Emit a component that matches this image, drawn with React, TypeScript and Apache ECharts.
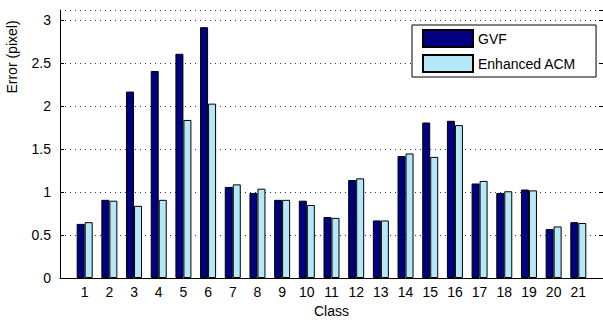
import React, { useEffect, useRef } from "react";
import * as echarts from "echarts";

const classes = [1, 2, 3, 4, 5, 6, 7, 8, 9, 10, 11, 12, 13, 14, 15, 16, 17, 18, 19, 20, 21];
const gvf = [0.63, 0.91, 2.17, 2.41, 2.61, 2.92, 1.06, 0.99, 0.91, 0.9, 0.71, 1.14, 0.67, 1.42, 1.81, 1.83, 1.1, 0.99, 1.03, 0.57, 0.65];
const acm = [0.65, 0.9, 0.84, 0.91, 1.84, 2.03, 1.09, 1.04, 0.91, 0.85, 0.7, 1.16, 0.67, 1.45, 1.41, 1.78, 1.13, 1.01, 1.02, 0.6, 0.64];
const seriesNames = ["GVF", "Enhanced ACM"];
const FONT = "Liberation Sans, Arial, sans-serif";

export default function App() {
  const ref = useRef<HTMLDivElement>(null);
  useEffect(() => {
    if (!ref.current) return;
    const chart = echarts.init(ref.current, null, { renderer: "svg" });
    const mk = (vals: number[]) => vals.map((v, i) => [classes[i], v]);
    chart.setOption({
      animation: false,
      backgroundColor: "#fff",
      grid: { left: 60, right: 0, top: 10, bottom: 42, containLabel: false, outerBoundsMode: "none" },
      legend: {
        data: seriesNames,
        orient: "vertical",
        left: 412,
        top: 25,
        padding: [4, 20, 4, 10],
        itemGap: 6,
        itemWidth: 50,
        itemHeight: 17,
        borderColor: "#000",
        borderWidth: 1,
        backgroundColor: "#fff",
        icon: "rect",
        textStyle: { fontFamily: FONT, fontSize: 14, color: "#000" },
      },
      xAxis: {
        type: "value",
        min: 0,
        max: 22,
        interval: 1,
        name: "Class",
        nameLocation: "middle",
        nameGap: 26,
        nameTextStyle: { fontFamily: FONT, fontSize: 14, color: "#000" },
        axisLine: { show: true, lineStyle: { color: "#000", width: 1 } },
        axisTick: { show: false },
        splitLine: { show: false },
        axisLabel: {
          fontFamily: FONT,
          fontSize: 14,
          color: "#000",
          margin: 7,
          formatter: (v: number) => (v >= 1 && v <= 21 ? String(v) : ""),
        },
      },
      yAxis: [
        {
          type: "value",
          min: 0,
          max: 3.12,
          interval: 0.5,
          axisLine: { show: true, lineStyle: { color: "#000", width: 1 } },
          axisTick: { show: true, inside: true, length: 4, lineStyle: { color: "#000" } },
          axisLabel: {
            fontFamily: FONT,
            fontSize: 14,
            color: "#000",
            margin: 9,
            showMaxLabel: false,
            formatter: (v: number) => (v > 3.01 ? "" : String(v)),
          },
          splitLine: { show: true, lineStyle: { color: "#333", type: [1, 4], width: 1 } },
        },
        {
          type: "value",
          position: "right",
          min: 0,
          max: 3.12,
          interval: 0.5,
          axisLine: { show: false },
          axisTick: { show: true, inside: true, length: 4, lineStyle: { color: "#000" } },
          axisLabel: { show: false },
          splitLine: { show: false },
        },
      ],
      graphic: [
        {
          type: "text",
          x: 12,
          y: 57,
          rotation: Math.PI / 2,
          style: {
            text: "Error (pixel)",
            fontFamily: FONT,
            fontSize: 14,
            fill: "#000",
            textAlign: "center",
            textVerticalAlign: "middle",
          },
        },
      ],
      series: [
        {
          name: seriesNames[0],
          type: "bar",
          data: mk(gvf),
          barWidth: 8,
          barGap: "0%",
          itemStyle: { color: "#000080", borderColor: "#000", borderWidth: 1 },
        },
        {
          name: seriesNames[1],
          type: "bar",
          data: mk(acm),
          barWidth: 8,
          barGap: "0%",
          itemStyle: { color: "#b4e8f8", borderColor: "#000", borderWidth: 1 },
        },
      ],
    });
    return () => chart.dispose();
  }, []);
  return (
    <div
      ref={ref}
      style={{ position: "fixed", left: 0, top: 0, width: 603, height: 320 }}
    />
  );
}
